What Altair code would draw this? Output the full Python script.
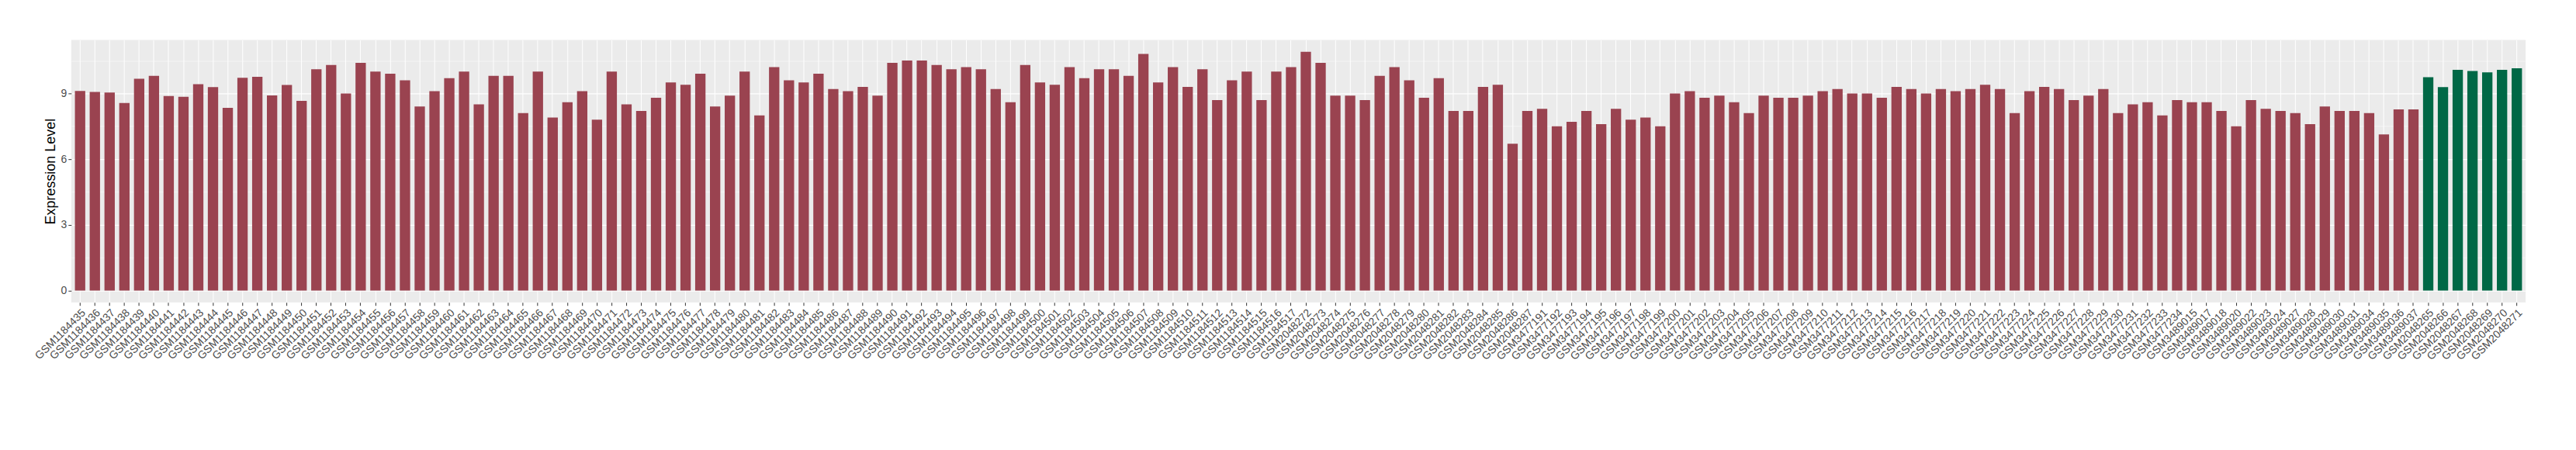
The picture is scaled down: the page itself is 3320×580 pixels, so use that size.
import altair as alt
import pandas as pd

# ---- data ----
grp1 = ["GSM%d" % n for n in range(1184435, 1184518)]          # 83 samples
grp2 = ["GSM%d" % n for n in range(2048272, 2048288)]          # 16 samples
grp3a = ["GSM%d" % n for n in range(3477191, 3477235)]         # 44 samples (to verify)
grp3b = ["GSM3489015", "GSM3489017", "GSM3489018", "GSM3489020", "GSM3489022",
         "GSM3489023", "GSM3489024", "GSM3489027", "GSM3489028", "GSM3489029",
         "GSM3489030", "GSM3489031", "GSM3489034", "GSM3489035", "GSM3489036",
         "GSM3489037"]
grp4 = ["GSM%d" % n for n in range(2048265, 2048272)]          # 7 samples

values_red = [
    9.11, 9.07, 9.04, 8.56, 9.67, 9.80, 8.88, 8.85, 9.42, 9.29,
    8.34, 9.71, 9.76, 8.91, 9.39, 8.66,
    10.1, 10.3, 9.0, 10.4, 10.0, 9.9, 9.6, 8.4, 9.1, 9.7,
    10.0, 8.5, 9.8, 9.8, 8.1, 10.0, 7.9, 8.6, 9.1, 7.8,
    10.0, 8.5, 8.2, 8.8, 9.5, 9.4, 9.9, 8.4, 8.9, 10.0,
    8.0, 10.2, 9.6, 9.5, 9.9, 9.2, 9.1, 9.3, 8.9, 10.4,
    10.5, 10.5, 10.3, 10.1, 10.2, 10.1, 9.2, 8.6, 10.3, 9.5,
    9.4, 10.2, 9.7, 10.1, 10.1, 9.8, 10.8, 9.5, 10.2, 9.3,
    10.1, 8.7, 9.6, 10.0, 8.7, 10.0, 10.2, 10.9, 10.4, 8.9,
    8.9, 8.7, 9.8, 10.2, 9.6, 8.8, 9.7, 8.2, 8.2, 9.3,
    9.4, 6.7, 8.2, 8.3, 7.5, 7.7, 8.2, 7.6, 8.3, 7.8,
    7.9, 7.5, 9.0, 9.1, 8.8, 8.9, 8.6, 8.1, 8.9, 8.8,
    8.8, 8.9, 9.1, 9.2, 9.0, 9.0, 8.8, 9.3, 9.2, 9.0,
    9.2, 9.1, 9.2, 9.4, 9.2, 8.1, 9.1, 9.3, 9.2, 8.7,
    8.9, 9.2, 8.1, 8.5, 8.6, 8.0, 8.7, 8.6, 8.6, 8.2,
    7.5, 8.7, 8.3, 8.2, 8.1, 7.6, 8.4, 8.2, 8.2, 8.1,
    7.13, 8.27, 8.27,
]
values_green = [9.74, 9.29, 10.08, 10.02, 9.96, 10.08, 10.15]

samples = grp1 + grp2 + grp3a + grp3b + grp4
n_red = len(samples) - len(grp4)
values_red = (values_red + [8.2] * n_red)[:n_red]
values = values_red + values_green
groups = ["A"] * n_red + ["B"] * len(grp4)

df = pd.DataFrame({"sample": samples, "value": values, "group": groups})

y_ticks = [0, 1.5, 3, 4.5, 6, 7.5, 9, 10.5]

chart = alt.Chart(df).mark_bar().encode(
    x=alt.X("sample:N", sort=None, title=None,
            scale=alt.Scale(paddingInner=0.3, paddingOuter=0.25),
            axis=alt.Axis(labelAngle=-45, labelAlign="right", labelBaseline="top",
                          bandPosition=0.5, grid=True, gridColor="white", gridWidth=1,
                          domain=False, tickColor="#333333", tickSize=4, tickWidth=1,
                          labelColor="#4d4d4d", labelFont="Liberation Sans",
                          labelFontSize=14, labelPadding=2, labelOverlap=False)),
    y=alt.Y("value:Q", title="Expression Level",
            scale=alt.Scale(domain=[-0.54, 11.44], nice=False, zero=False),
            axis=alt.Axis(values=y_ticks, grid=True, gridColor="white",
                          gridWidth={"condition": {"test": "datum.value % 3 === 0", "value": 1.2}, "value": 0.5},
                          tickOpacity={"condition": {"test": "datum.value % 3 === 0", "value": 1}, "value": 0},
                          labelExpr="datum.value % 3 === 0 ? datum.label : ''",
                          domain=False, tickColor="#333333", tickSize=4, tickWidth=1,
                          labelColor="#4d4d4d", labelFont="Liberation Sans", labelFontSize=14,
                          labelPadding=2, titleFont="Liberation Sans", titleFontSize=18,
                          titleFontWeight="normal", titleColor="black", titlePadding=4)),
    y2=alt.datum(0),
    color=alt.Color("group:N", legend=None,
                    scale=alt.Scale(domain=["A", "B"], range=["#9A4350", "#006846"])),
).properties(
    width=3171, height=339,
    autosize=alt.AutoSizeParams(type="none"),
    padding={"left": 84, "top": 43, "right": 57, "bottom": 150},
).configure_view(fill="#EBEBEB", strokeWidth=0)

chart.save("out.html", embed_options={"renderer": "svg", "actions": False})
